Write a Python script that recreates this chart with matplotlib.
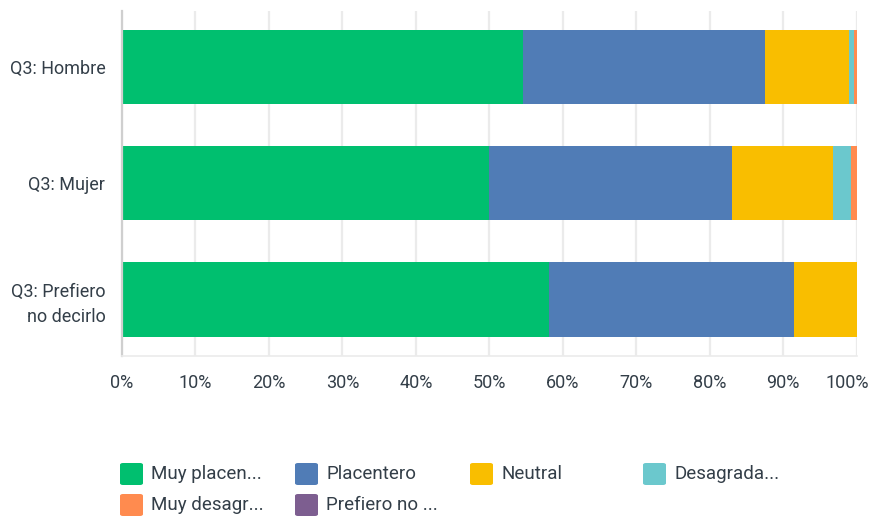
import numpy as np
import matplotlib
matplotlib.use('Agg')
import matplotlib.pyplot as plt
from matplotlib.patches import FancyBboxPatch
from matplotlib.transforms import ScaledTranslation

categories = ["Q3: Hombre", "Q3: Mujer", "Q3: Prefiero\nno decirlo"]
series_labels = ["Muy placen...", "Placentero", "Neutral", "Desagrada...",
                 "Muy desagr...", "Prefiero no ..."]
muy_placentero = [54.6, 49.9, 58.1]
placentero = [32.9, 33.1, 33.3]
neutral = [11.4, 13.8, 8.6]
desagradable = [0.7, 2.4, 0.0]
muy_desagradable = [0.4, 0.8, 0.0]
prefiero_no = [0.0, 0.0, 0.0]
x_ticks = [0, 10, 20, 30, 40, 50, 60, 70, 80, 90, 100]

SERIES = [muy_placentero, placentero, neutral, desagradable,
          muy_desagradable, prefiero_no]
COLORS = ['#00bf6f', '#507cb6', '#f9be00', '#6bc8cd', '#ff8b4f', '#7d5e90']
TEXT_C = '#333e48'

plt.rcParams['font.family'] = ['Roboto', 'DejaVu Sans']

W, H = 871, 516
fig = plt.figure(figsize=(W / 100, H / 100), dpi=100)
ax = fig.add_axes([122 / W, 1 - 355.7 / H, (856.7 - 122) / W, (355.7 - 11) / H])

y = np.arange(len(categories))
left = np.zeros(len(categories))
for vals, c in zip(SERIES, COLORS):
    vals = np.array(vals, dtype=float)
    ax.barh(y, vals, left=left, height=0.64, color=c, linewidth=0, zorder=2)
    left += vals

ax.set_xlim(0, 100)
ax.set_ylim(2.485, -0.485)
ax.set_xticks(x_ticks)
ax.set_xticklabels([f"{t}%" for t in x_ticks])
ax.set_yticks(y)
ax.set_yticklabels(categories, linespacing=1.45)
ax.tick_params(axis='both', length=0, labelsize=13, colors=TEXT_C)
ax.tick_params(axis='x', pad=13)
ax.tick_params(axis='y', pad=12)
# last tick label is pushed left so it stays inside the figure
last = ax.get_xticklabels()[-1]
last.set_transform(last.get_transform() + ScaledTranslation(-9 / 100, 0, fig.dpi_scale_trans))
ax.grid(axis='x', color='#ebebeb', lw=1.6, zorder=0)
for s in ['top', 'right']:
    ax.spines[s].set_visible(False)
ax.spines['left'].set_color('#cfcfcf')
ax.spines['left'].set_linewidth(1.6)
ax.spines['bottom'].set_color('#ebebeb')
ax.spines['bottom'].set_linewidth(1.2)

# legend: 4 columns, row-major
col_x = [120, 295, 470, 643]
row_y = [474, 505]
sw, sh = 23, 22
for i, (lab, c) in enumerate(zip(series_labels, COLORS)):
    cx = col_x[i % 4]
    cy = row_y[i // 4]
    fig.add_artist(FancyBboxPatch(
        (cx / W, 1 - (cy + sh / 2) / H), sw / W, sh / H,
        boxstyle=f"round,pad=0,rounding_size={3 / W}",
        transform=fig.transFigure, facecolor=c, edgecolor='none'))
    fig.text((cx + sw + 8) / W, 1 - cy / H, lab, fontsize=13.5,
             color=TEXT_C, va='center', ha='left')

fig.savefig('out.png', dpi=100)
